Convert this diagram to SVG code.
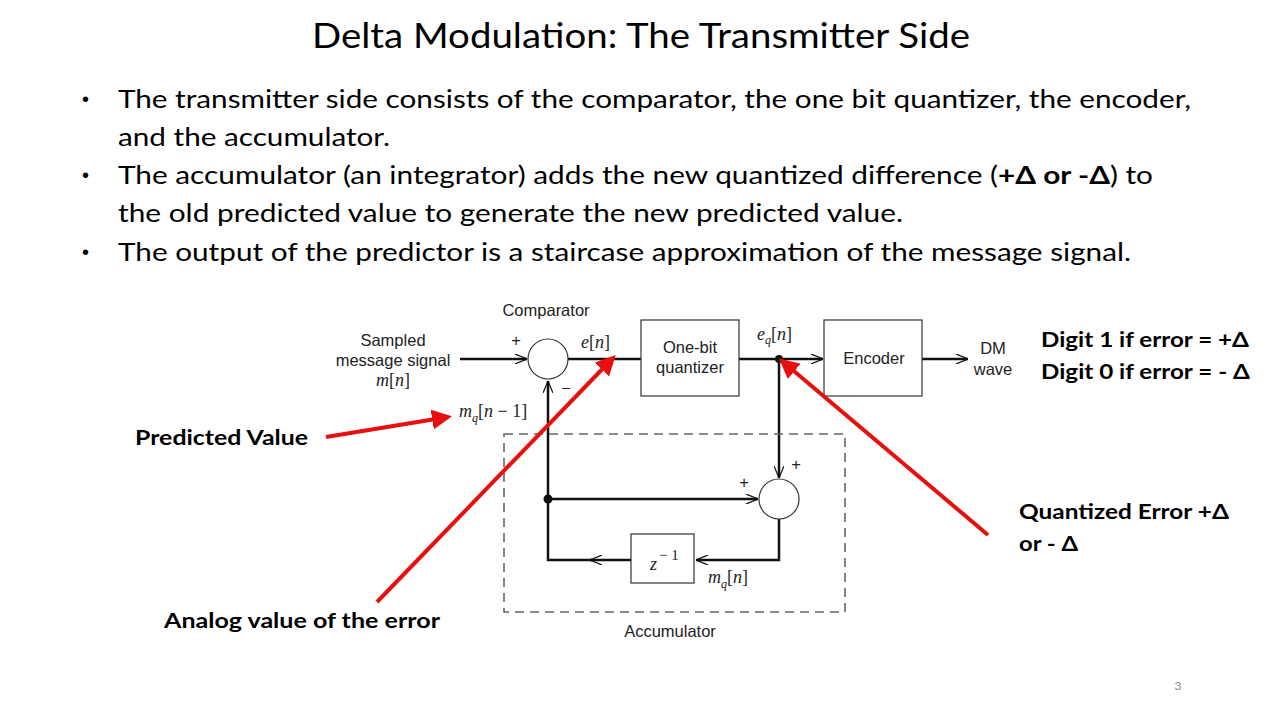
<svg xmlns="http://www.w3.org/2000/svg" width="1280" height="720" viewBox="0 0 1280 720">
<defs>
<style>
.title{font-family:Lato,"Liberation Sans",sans-serif;font-size:35px;fill:#000}
.bul{font-family:Lato,"Liberation Sans",sans-serif;font-size:25px;fill:#000}
.dot{font-family:"Liberation Sans",sans-serif;font-size:20px;fill:#000}
.ann{font-family:Lato,"Liberation Sans",sans-serif;font-size:21px;font-weight:bold;fill:#000}
.lbl{font-family:"Liberation Sans",Arial,sans-serif;font-size:16.5px;fill:#222}
.math{font-family:"Liberation Serif","Times New Roman",serif;font-style:italic;font-size:18px;fill:#222}
.up{font-style:normal}
.blk{fill:#fff;stroke:#333;stroke-width:1.2}
.wire{fill:none;stroke:#111;stroke-width:2.5}
.red{fill:none;stroke:#e8100f;stroke-width:4}
</style>
<marker id="chev" viewBox="0 0 12 10" refX="12" refY="5" markerWidth="12" markerHeight="10" markerUnits="userSpaceOnUse" orient="auto">
<path d="M0,0 L12,5 L0,10" fill="none" stroke="#111" stroke-width="1.2"/>
</marker>
<marker id="redhead" viewBox="0 0 10 10" refX="8" refY="5" markerWidth="5" markerHeight="5" orient="auto">
<path d="M0,0 L10,5 L0,10 Z" fill="#e8100f"/>
</marker>
</defs>
<rect width="1280" height="720" fill="#fff"/>

<g id="title">
<text class="title" x="641" y="48" text-anchor="middle" textLength="658" lengthAdjust="spacingAndGlyphs">Delta Modulation: The Transmitter Side</text>
</g>

<g id="bullets">
<text class="dot" x="82" y="106">•</text>
<text class="bul" x="118" y="108" textLength="1073" lengthAdjust="spacingAndGlyphs">The transmitter side consists of the comparator, the one bit quantizer, the encoder,</text>
<text class="bul" x="118" y="146" textLength="272" lengthAdjust="spacingAndGlyphs">and the accumulator.</text>
<text class="dot" x="82" y="182">•</text>
<text class="bul" x="118" y="184" textLength="1035" lengthAdjust="spacingAndGlyphs">The accumulator (an integrator) adds the new quantized difference (<tspan font-weight="bold">+Δ or -Δ</tspan>) to</text>
<text class="bul" x="118" y="222" textLength="785" lengthAdjust="spacingAndGlyphs">the old predicted value to generate the new predicted value.</text>
<text class="dot" x="82" y="259">•</text>
<text class="bul" x="118" y="261" textLength="1013" lengthAdjust="spacingAndGlyphs">The output of the predictor is a staircase approximation of the message signal.</text>
</g>

<g id="connectors">
<line class="wire" x1="460" y1="359" x2="527" y2="359" marker-end="url(#chev)"/>
<line class="wire" x1="568" y1="359" x2="641" y2="359"/>
<line class="wire" x1="739" y1="359" x2="823" y2="359" marker-end="url(#chev)"/>
<line class="wire" x1="922" y1="359" x2="968" y2="359" marker-end="url(#chev)"/>
<line class="wire" x1="779" y1="359" x2="779" y2="478" marker-end="url(#chev)"/>
<line class="wire" x1="548" y1="499" x2="758" y2="499" marker-end="url(#chev)"/>
<polyline class="wire" points="779,519 779,560 696,560" marker-end="url(#chev)"/>
<line class="wire" x1="631" y1="560" x2="590" y2="560" marker-end="url(#chev)"/>
<polyline class="wire" points="592,560 548,560 548,381" marker-end="url(#chev)"/>
<circle cx="779" cy="359" r="4" fill="#111"/>
<circle cx="548" cy="499" r="4.5" fill="#111"/>
</g>

<g id="accumulator">
<rect x="504" y="434" width="341" height="178" fill="none" stroke="#666" stroke-width="1.6" stroke-dasharray="9,6"/>
<text class="lbl" x="670" y="637" text-anchor="middle">Accumulator</text>
</g>

<g id="comparator">
<circle class="blk" cx="548" cy="359" r="20"/>
<text class="lbl" x="546" y="316" text-anchor="middle">Comparator</text>
<text class="lbl" x="516" y="346" text-anchor="middle">+</text>
<text class="lbl" x="566" y="394" text-anchor="middle">−</text>
</g>

<g id="input">
<text class="lbl" x="393" y="346" text-anchor="middle">Sampled</text>
<text class="lbl" x="393" y="366" text-anchor="middle">message signal</text>
<text class="math" x="393" y="386" text-anchor="middle">m<tspan class="up">[</tspan>n<tspan class="up">]</tspan></text>
</g>

<g id="quantizer">
<rect class="blk" x="641" y="320" width="98" height="76"/>
<text class="lbl" x="690" y="353" text-anchor="middle">One-bit</text>
<text class="lbl" x="690" y="373" text-anchor="middle">quantizer</text>
</g>

<g id="encoder">
<rect class="blk" x="824" y="320" width="98" height="76"/>
<text class="lbl" x="874" y="364" text-anchor="middle">Encoder</text>
</g>

<g id="output">
<text class="lbl" x="993" y="354" text-anchor="middle">DM</text>
<text class="lbl" x="993" y="375" text-anchor="middle">wave</text>
</g>

<g id="adder">
<circle class="blk" cx="779" cy="499" r="20"/>
<text class="lbl" x="796" y="470" text-anchor="middle">+</text>
<text class="lbl" x="744" y="488" text-anchor="middle">+</text>
</g>

<g id="delay">
<rect class="blk" x="631" y="534" width="63" height="49"/>
<text class="math" x="650" y="570">z<tspan class="up" font-size="15" dx="2" dy="-10">− 1</tspan></text>
</g>

<g id="signal-labels">
<text class="math" x="581" y="348">e<tspan class="up">[</tspan>n<tspan class="up">]</tspan></text>
<text class="math" x="757" y="340">e<tspan font-size="12" dy="4">q</tspan><tspan class="up" dy="-4">[</tspan>n<tspan class="up">]</tspan></text>
<text class="math" x="459" y="417">m<tspan font-size="12" dy="5">q</tspan><tspan class="up" dy="-5">[</tspan>n<tspan class="up"> − 1]</tspan></text>
<text class="math" x="708" y="583">m<tspan font-size="12" dy="5">q</tspan><tspan class="up" dy="-5">[</tspan>n<tspan class="up">]</tspan></text>
</g>

<g id="annotations">
<line class="red" x1="326" y1="437" x2="448" y2="417" marker-end="url(#redhead)"/>
<line class="red" x1="377" y1="602" x2="613" y2="358" marker-end="url(#redhead)"/>
<line class="red" x1="988" y1="535" x2="782" y2="361" marker-end="url(#redhead)"/>
<text class="ann" x="135" y="445" textLength="173" lengthAdjust="spacingAndGlyphs">Predicted Value</text>
<text class="ann" x="164" y="628" textLength="276" lengthAdjust="spacingAndGlyphs">Analog value of the error</text>
<text class="ann" x="1041" y="347" textLength="208" lengthAdjust="spacingAndGlyphs">Digit 1 if error = +Δ</text>
<text class="ann" x="1041" y="379" textLength="209" lengthAdjust="spacingAndGlyphs">Digit 0 if error = - Δ</text>
<text class="ann" x="1019" y="519" textLength="210" lengthAdjust="spacingAndGlyphs">Quantized Error +Δ</text>
<text class="ann" x="1019" y="551" textLength="59" lengthAdjust="spacingAndGlyphs">or - Δ</text>
</g>

<g id="page-number">
<text x="1178" y="690" text-anchor="middle" font-family="Lato,'Liberation Sans',sans-serif" font-size="12" fill="#888">3</text>
</g>
</svg>
